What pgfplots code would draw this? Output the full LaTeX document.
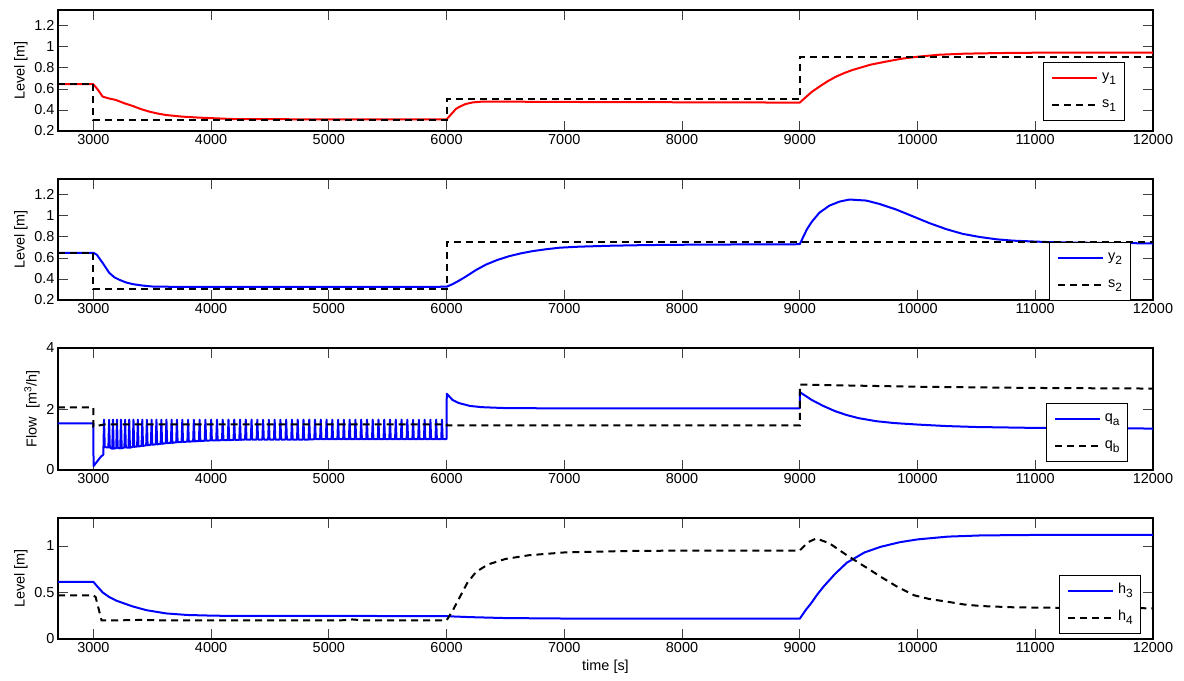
\documentclass[border=0pt]{standalone}
\usepackage{fontspec}
\setmainfont{Liberation Sans}
\usepackage{pgfplots}
\pgfplotsset{compat=1.18}
\newcommand{\sub}[1]{\raisebox{-4bp}{\fontsize{12}{12}\selectfont #1}}
\pgfplotsset{
 myax/.style={
  scale only axis, width=1095bp, height=121bp,
  xmin=2700, xmax=12000,
  xtick={3000,4000,...,12000},
  scaled x ticks=false, scaled y ticks=false,
  /pgf/number format/assume math mode=true,
  /pgf/number format/1000 sep={},
  tick label style={font=\fontsize{14.5}{17}\selectfont},
  label style={font=\fontsize{14.5}{17}\selectfont},
  tick align=inside,
  major tick length=10bp,
  axis line style={line width=1.2bp},
  every tick/.style={black!75, line width=0.8bp},
  legend cell align=left,
  legend image code/.code={\draw[##1] (0bp,0bp) -- (45bp,0bp);},
  legend style={draw=black, fill=white, inner xsep=8bp, inner ysep=7.5bp,
    row sep=11bp, column sep=4bp,
    nodes={inner sep=0pt, text height=11bp, text depth=5bp, font=\fontsize{14.5}{17}\selectfont}},
 },
 solidred/.style={draw=red, color=red, line width=2bp, line join=round},
 solidblue/.style={draw=blue, color=blue, line width=2bp, line join=round},
 dashk/.style={draw=black, color=black, line width=2bp, dash pattern=on 7bp off 5bp},
}
\begin{document}
\begin{tikzpicture}
\path[use as bounding box] (-58bp,10bp) rectangle (1126bp,-671bp);
% ---------------- Panel 1
\begin{axis}[myax, at={(0,0)}, anchor=north west,
  ymin=0.2, ymax=1.35, ytick={0.2,0.4,...,1.2},
  ylabel={Level [m]},
  legend style={at={(0.8995,0.570)}, anchor=north west}]
\addplot[solidred] coordinates {(2700,0.645)(3000,0.645)(3040,0.59)(3079,0.527)(3130,0.51)(3192,0.495)(3260,0.465)(3334,0.438)(3400,0.41)(3476,0.384)(3550,0.365)(3617,0.352)(3750,0.337)(3900,0.327)(4050,0.32)(4184,0.314)(4500,0.312)(5000,0.311)(5500,0.31)(6000,0.31)(6040,0.36)(6080,0.41)(6110,0.43)(6160,0.456)(6223,0.472)(6300,0.479)(6500,0.479)(7000,0.476)(8000,0.473)(9000,0.47)(9060,0.53)(9100,0.57)(9167,0.622)(9240,0.675)(9309,0.717)(9380,0.752)(9451,0.781)(9600,0.83)(9734,0.86)(9870,0.888)(10017,0.908)(10187,0.925)(10400,0.935)(10700,0.941)(11000,0.944)(11500,0.945)(12000,0.945)};
\addlegendentry{y\sub{1}}
\addplot[dashk] coordinates {(2700,0.65)(3000,0.65)(3000,0.3)(6000,0.3)(6000,0.5)(9000,0.5)(9000,0.9)(12000,0.9)};
\addlegendentry{s\sub{1}}
\end{axis}
% ---------------- Panel 2
\begin{axis}[myax, at={(0,-169bp)}, anchor=north west,
  ymin=0.2, ymax=1.35, ytick={0.2,0.4,...,1.2},
  ylabel={Level [m]},
  legend style={at={(0.905,0.477)}, anchor=north west}]
\addplot[solidblue] coordinates {(2700,0.649)(3000,0.649)(3030,0.63)(3079,0.553)(3136,0.457)(3180,0.415)(3221,0.392)(3280,0.366)(3334,0.351)(3420,0.337)(3504,0.328)(3700,0.325)(4000,0.325)(5000,0.325)(6000,0.326)(6050,0.35)(6100,0.38)(6166,0.424)(6250,0.485)(6336,0.537)(6430,0.58)(6534,0.617)(6630,0.643)(6733,0.665)(6850,0.683)(6959,0.697)(7129,0.707)(7400,0.716)(7700,0.722)(8000,0.725)(8500,0.728)(9000,0.73)(9030,0.8)(9060,0.87)(9100,0.94)(9167,1.03)(9252,1.097)(9337,1.135)(9423,1.155)(9565,1.145)(9677,1.113)(9819,1.06)(9961,0.995)(10103,0.93)(10245,0.873)(10386,0.828)(10528,0.799)(10670,0.777)(10812,0.764)(11095,0.751)(11500,0.743)(12000,0.738)};
\addlegendentry{y\sub{2}}
\addplot[dashk] coordinates {(2700,0.65)(3000,0.65)(3000,0.3)(6000,0.3)(6000,0.75)(12000,0.75)};
\addlegendentry{s\sub{2}}
\end{axis}
% ---------------- Panel 3
\begin{axis}[myax, at={(0,-338bp)}, anchor=north west, height=122bp,
  ymin=0, ymax=4, ytick={0,2,4},
  ylabel={Flow\ \ [m\textsuperscript{3}/h]},
  legend style={at={(0.902,0.547)}, anchor=north west}]
\addplot[solidblue] coordinates {(2700,1.53)(3000,1.53)(3002,0.13)(3065,0.44)(3085,0.5)
(3091,1.65)(3097,0.75)
(3128,0.74)(3134,1.65)(3140,0.74)
(3161,0.70)(3167,1.65)(3173,0.70)
(3195,0.72)(3201,1.65)(3207,0.72)
(3229,0.71)(3235,1.65)(3241,0.71)
(3264,0.74)(3270,1.65)(3276,0.74)
(3299,0.73)(3305,1.65)(3311,0.73)
(3335,0.76)(3341,1.65)(3347,0.76)
(3372,0.77)(3378,1.65)(3384,0.77)
(3410,0.79)(3416,1.65)(3422,0.79)
(3449,0.81)(3455,1.65)(3461,0.81)
(3489,0.83)(3495,1.65)(3501,0.83)
(3530,0.84)(3536,1.65)(3542,0.84)
(3572,0.86)(3578,1.65)(3584,0.86)
(3615,0.88)(3621,1.65)(3627,0.88)
(3659,0.89)(3665,1.65)(3671,0.89)
(3704,0.91)(3710,1.65)(3716,0.91)
(3750,0.92)(3756,1.65)(3762,0.92)
(3799,0.93)(3805,1.65)(3811,0.93)
(3848,0.94)(3854,1.65)(3860,0.94)
(3897,0.95)(3903,1.65)(3909,0.95)
(3946,0.96)(3952,1.65)(3958,0.96)
(3995,0.97)(4001,1.65)(4007,0.97)
(4044,0.97)(4050,1.65)(4056,0.97)
(4093,0.98)(4099,1.65)(4105,0.98)
(4142,0.98)(4148,1.65)(4154,0.98)
(4191,0.99)(4197,1.65)(4203,0.99)
(4240,0.99)(4246,1.65)(4252,0.99)
(4289,1.00)(4295,1.65)(4301,1.00)
(4338,1.00)(4344,1.65)(4350,1.00)
(4387,1.00)(4393,1.65)(4399,1.00)
(4436,1.00)(4442,1.65)(4448,1.00)
(4485,1.00)(4491,1.65)(4497,1.00)
(4534,1.00)(4540,1.65)(4546,1.00)
(4583,1.00)(4589,1.65)(4595,1.00)
(4632,1.00)(4638,1.65)(4644,1.00)
(4681,1.00)(4687,1.65)(4693,1.00)
(4730,1.00)(4736,1.65)(4742,1.00)
(4779,1.00)(4785,1.65)(4791,1.00)
(4828,1.00)(4834,1.65)(4840,1.00)
(4877,1.01)(4883,1.65)(4889,1.01)
(4926,1.01)(4932,1.65)(4938,1.01)
(4975,1.01)(4981,1.65)(4987,1.01)
(5024,1.01)(5030,1.65)(5036,1.01)
(5073,1.01)(5079,1.65)(5085,1.01)
(5122,1.01)(5128,1.65)(5134,1.01)
(5171,1.01)(5177,1.65)(5183,1.01)
(5220,1.01)(5226,1.65)(5232,1.01)
(5269,1.01)(5275,1.65)(5281,1.01)
(5318,1.01)(5324,1.65)(5330,1.01)
(5367,1.01)(5373,1.65)(5379,1.01)
(5416,1.01)(5422,1.65)(5428,1.01)
(5465,1.01)(5471,1.65)(5477,1.01)
(5514,1.01)(5520,1.65)(5526,1.01)
(5563,1.01)(5569,1.65)(5575,1.01)
(5612,1.01)(5618,1.65)(5624,1.01)
(5661,1.01)(5667,1.65)(5673,1.01)
(5710,1.01)(5716,1.65)(5722,1.01)
(5759,1.01)(5765,1.65)(5771,1.01)
(5808,1.01)(5814,1.65)(5820,1.01)
(5857,1.01)(5863,1.65)(5869,1.01)
(5906,1.01)(5912,1.65)(5918,1.01)
(5955,1.01)(5961,1.65)(5967,1.01)
(6000,1.01)(6002,2.5)(6050,2.3)(6100,2.2)(6200,2.1)(6300,2.06)(6500,2.03)(7000,2.02)(8000,2.02)(9000,2.02)(9002,2.55)(9100,2.3)(9200,2.1)(9300,1.93)(9400,1.8)(9500,1.7)(9650,1.6)(9800,1.54)(10000,1.49)(10250,1.44)(10500,1.41)(11000,1.38)(11500,1.365)(12000,1.36)};
\addlegendentry{q\sub{a}}
\addplot[dashk] coordinates {(2700,2.05)(3000,2.05)(3000,1.42)(3100,1.5)(6000,1.5)(6000,1.46)(9000,1.46)(9000,2.8)(10000,2.73)(11000,2.69)(12000,2.67)};
\addlegendentry{q\sub{b}}
\end{axis}
% ---------------- Panel 4
\begin{axis}[myax, at={(0,-508bp)}, anchor=north west,
  ymin=0, ymax=1.3, ytick={0,0.5,1},
  ylabel={Level [m]}, xlabel={time [s]},
  legend style={at={(0.914,0.529)}, anchor=north west}]
\addplot[solidblue] coordinates {(2700,0.615)(3000,0.615)(3030,0.57)(3080,0.5)(3136,0.45)(3200,0.41)(3334,0.35)(3450,0.31)(3617,0.275)(3800,0.258)(4042,0.25)(4500,0.248)(5000,0.248)(5500,0.247)(6000,0.245)(6200,0.235)(6500,0.225)(7000,0.22)(8000,0.218)(9000,0.218)(9050,0.31)(9100,0.39)(9150,0.48)(9200,0.56)(9300,0.70)(9400,0.82)(9550,0.93)(9686,0.99)(9850,1.04)(10000,1.07)(10257,1.10)(10543,1.113)(11000,1.118)(12000,1.12)};
\addlegendentry{h\sub{3}}
\addplot[dashk] coordinates {(2700,0.47)(3000,0.47)(3020,0.45)(3070,0.2)(3200,0.2)(3400,0.205)(3600,0.2)(3800,0.2)(4500,0.2)(5100,0.2)(5200,0.21)(5300,0.2)(6000,0.2)(6050,0.3)(6100,0.42)(6175,0.6)(6250,0.72)(6350,0.8)(6500,0.86)(6700,0.9)(7000,0.93)(7500,0.945)(8000,0.95)(9000,0.95)(9070,1.04)(9140,1.08)(9250,1.03)(9400,0.9)(9550,0.78)(9686,0.67)(9830,0.56)(9971,0.47)(10100,0.43)(10257,0.40)(10400,0.37)(10543,0.354)(10829,0.34)(11200,0.335)(12000,0.33)};
\addlegendentry{h\sub{4}}
\end{axis}
\end{tikzpicture}
\end{document}
